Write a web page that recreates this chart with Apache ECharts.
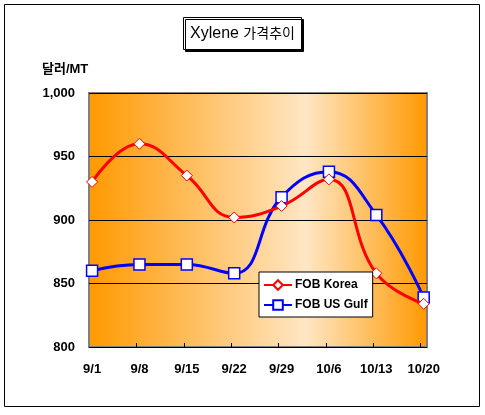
<!DOCTYPE html>
<html><head><meta charset="utf-8">
<script src="https://cdn.jsdelivr.net/npm/echarts@6/dist/echarts.min.js"></script>
<style>html,body{margin:0;padding:0;background:#fff}#c{width:485px;height:415px}</style>
</head><body><div id="c"></div>
<script>
var categories = ['9/1','9/8','9/15','9/22','9/29','10/6','10/13','10/20'];
var fobKorea = [930, 960, 935, 902, 911, 932, 858, 834];
var fobUSGulf = [860, 865, 865, 858, 918, 938, 904, 839];
var yTicks = [800, 850, 900, 950, 1000];

var FONT = 'Arial, "Liberation Sans", "Noto Sans CJK KR", sans-serif';
var chart = echarts.init(document.getElementById('c'), null, {renderer:'canvas'});
function pts(arr){ return arr.map(function(v,i){ return [i, v]; }); }
chart.setOption({
  animation: false,
  backgroundColor: '#fff',
  title: {
    text: '{a|Xylene }{b|가격추이}',
    left: 183, top: 17,
    padding: [9, 7, 8, 7],
    borderColor: '#000', borderWidth: 1,
    backgroundColor: '#fff',
    shadowColor: '#000', shadowOffsetX: 2, shadowOffsetY: 2, shadowBlur: 0,
    textStyle: {
      fontFamily: FONT, fontSize: 16, fontWeight: 'normal', color: '#000',
      rich: {
        a: { fontFamily: FONT, fontSize: 16, color: '#000' },
        b: { fontFamily: FONT, fontSize: 14, color: '#000' }
      }
    }
  },
  graphic: [
    { type: 'rect', shape: { x: 4.5, y: 4.5, width: 475, height: 402 }, style: { fill: 'none', stroke: '#000', lineWidth: 1 }, silent: true },
    { type: 'text', left: 42, top: 63, style: { text: '달러/MT', font: 'bold 13px ' + FONT, fill: '#000' } }
  ],
  legend: {
    orient: 'vertical',
    left: 259, top: 272,
    backgroundColor: '#fff',
    borderColor: '#000', borderWidth: 1,
    padding: [7, 5, 6, 4],
    itemGap: 8,
    itemWidth: 28, itemHeight: 12,
    textStyle: { fontFamily: FONT, fontSize: 12, fontWeight: 'bold', color: '#000', padding: [0,0,0,-2] },
    data: ['FOB Korea', 'FOB US Gulf']
  },
  grid: {
    left: 89, top: 93, right: 58, bottom: 68,
    show: true,
    borderColor: '#808080', borderWidth: 2,
    backgroundColor: new echarts.graphic.LinearGradient(0, 0, 1, 0, [
      { offset: 0, color: '#FF9900' },
      { offset: 0.64, color: '#FFE6C4' },
      { offset: 1, color: '#FF9900' }
    ])
  },
  xAxis: {
    type: 'value',
    min: -0.065, max: 7.07,
    axisLine: { show: false },
    splitLine: { show: false },
    axisTick: { show: true, inside: true, length: 4, lineStyle: { color: '#000' }, customValues: [1,2,3,4,5,6,7].map(function(v){return v-0.063;}) },
    axisLabel: {
      customValues: categories.map(function(c,i){ return i; }),
      formatter: function(v){ return categories[Math.round(v)]; },
      margin: 16,
      fontFamily: FONT, fontSize: 13, fontWeight: 'bold', color: '#000'
    }
  },
  yAxis: {
    type: 'value',
    min: yTicks[0], max: yTicks[yTicks.length-1], interval: 50,
    axisLine: { show: false },
    axisTick: { show: false },
    splitLine: { show: true, lineStyle: { color: '#000', width: 1 } },
    axisLabel: {
      margin: 14,
      formatter: function(v){ return v >= 1000 ? (Math.floor(v/1000) + ',' + String(v%1000).padStart(3,'0')) : String(v); },
      fontFamily: FONT, fontSize: 13, fontWeight: 'bold', color: '#000'
    }
  },
  series: [
    {
      name: 'FOB Korea', type: 'line', smooth: 0.45,
      data: pts(fobKorea),
      symbol: 'diamond', symbolSize: 11,
      lineStyle: { color: '#FF0000', width: 3 },
      itemStyle: { color: '#FFFFFF', borderColor: '#FF0000', borderWidth: 1 },
      z: 3
    },
    {
      name: 'FOB US Gulf', type: 'line', smooth: 0.45,
      data: pts(fobUSGulf),
      symbol: 'rect', symbolSize: 11,
      lineStyle: { color: '#0000FF', width: 3 },
      itemStyle: { color: '#FFFFFF', borderColor: '#0000FF', borderWidth: 1.5 },
      z: 2
    }
  ]
});
</script></body></html>
